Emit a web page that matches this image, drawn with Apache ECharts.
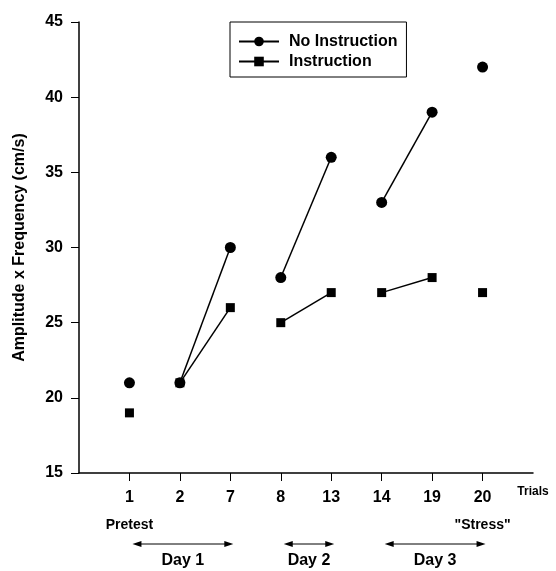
<!DOCTYPE html>
<html>
<head>
<meta charset="utf-8">
<script src="https://cdn.jsdelivr.net/npm/echarts@6/dist/echarts.min.js"></script>
<style>
    html, body { margin: 0; padding: 0; background: #fff; }
    #chart { width: 556px; height: 571px; }
</style>
</head>
<body>
<div id="chart"></div>
<script>
    // trials on the x axis
    var trials = ['1', '2', '7', '8', '13', '14', '19', '20'];
    // amplitude x frequency (cm/s)
    var noInstruction = [21, 21, 30, 28, 36, 33, 39, 42];
    var instruction = [19, 21, 26, 25, 27, 27, 28, 27];
    // which points are joined by a line
    var segments = [[0], [1, 2], [3, 4], [5, 6], [7]];
    var yTicks = [15, 20, 25, 30, 35, 40, 45];
    var days = [
        { label: 'Day 1', from: '1', to: '7' },
        { label: 'Day 2', from: '8', to: '13' },
        { label: 'Day 3', from: '14', to: '20' }
    ];

    var font = 'Liberation Sans, Arial, sans-serif';
    var axisData = [''].concat(trials, ['Trials']);

    function makeSeries(name, values, symbol, size) {
        return segments.map(function (seg) {
            var data = axisData.map(function () { return null; });
            seg.forEach(function (i) { data[i + 1] = values[i]; });
            return {
                name: name,
                type: 'line',
                data: data,
                symbol: symbol,
                symbolSize: size,
                showAllSymbol: true,
                connectNulls: false,
                lineStyle: { color: '#000', width: 1.5 },
                itemStyle: { color: '#000' },
                emphasis: { disabled: true },
                animation: false
            };
        });
    }

    var chart = echarts.init(document.getElementById('chart'));
    chart.setOption({
        animation: false,
        grid: { left: 79, right: 23, top: 22, bottom: 98, containLabel: false },
        legend: {
            orient: 'vertical',
            left: 230,
            top: 22,
            padding: [11, 9, 7, 8],
            borderColor: '#000',
            borderWidth: 1,
            itemWidth: 40,
            itemHeight: 12,
            itemGap: 3,
            textStyle: { fontSize: 16, fontWeight: 'bold', lineHeight: 17, color: '#000', fontFamily: font, padding: [0, 0, 0, 5] },
            data: ['No Instruction', 'Instruction']
        },
        xAxis: {
            type: 'category',
            boundaryGap: false,
            data: axisData,
            axisLine: { lineStyle: { color: '#000', width: 1.5 } },
            axisTick: {
                length: 8,
                lineStyle: { color: '#000' },
                interval: function (idx) { return idx > 0 && idx < axisData.length - 1; }
            },
            axisLabel: {
                interval: 0,
                margin: 17,
                color: '#000',
                fontSize: 16,
                fontWeight: 'bold',
                fontFamily: font,
                formatter: function (v) { return v === 'Trials' ? '' : v; }
            },
            splitLine: { show: false }
        },
        yAxis: {
            type: 'value',
            min: yTicks[0],
            max: yTicks[yTicks.length - 1],
            interval: 5,
            name: 'Amplitude x Frequency (cm/s)',
            nameLocation: 'middle',
            nameGap: 51,
            nameTextStyle: { fontSize: 16, fontWeight: 'bold', color: '#000', fontFamily: font },
            axisLine: { show: true, lineStyle: { color: '#000', width: 1.5 } },
            axisTick: { show: true, length: 8, lineStyle: { color: '#000' } },
            axisLabel: { margin: 16, color: '#000', fontSize: 16, fontWeight: 'bold', fontFamily: font },
            splitLine: { show: false }
        },
        series: makeSeries('No Instruction', noInstruction, 'circle', 11)
            .concat(makeSeries('Instruction', instruction, 'rect', 9))
    });

    // annotations below the axis, placed through the category scale
    function px(label) {
        return chart.convertToPixel({ xAxisIndex: 0 }, label);
    }
    var graphics = [];
    var smallText = { fontWeight: 'bold', fill: '#000', fontFamily: font, align: 'center', verticalAlign: 'middle' };
    graphics.push({ type: 'text', x: px('Trials'), y: 492, style: Object.assign({ text: 'Trials', fontSize: 12 }, smallText) });
    graphics.push({ type: 'text', x: px('1'), y: 525, style: Object.assign({ text: 'Pretest', fontSize: 14 }, smallText) });
    graphics.push({ type: 'text', x: px('20'), y: 525, style: Object.assign({ text: '"Stress"', fontSize: 14 }, smallText) });
    var ay = 544;
    days.forEach(function (d) {
        var x1 = px(d.from) + 3, x2 = px(d.to) + 3;
        graphics.push({ type: 'line', shape: { x1: x1 + 4, y1: ay, x2: x2 - 4, y2: ay }, style: { stroke: '#000', lineWidth: 1 } });
        graphics.push({ type: 'polygon', shape: { points: [[x1, ay], [x1 + 9, ay - 3], [x1 + 9, ay + 3]] }, style: { fill: '#000' } });
        graphics.push({ type: 'polygon', shape: { points: [[x2, ay], [x2 - 9, ay - 3], [x2 - 9, ay + 3]] }, style: { fill: '#000' } });
        graphics.push({
            type: 'text', x: (x1 + x2) / 2, y: 561,
            style: { text: d.label, fontSize: 16, fontWeight: 'bold', fill: '#000', fontFamily: font, align: 'center', verticalAlign: 'middle' }
        });
    });
    chart.setOption({ graphic: graphics });
</script>
</body>
</html>
